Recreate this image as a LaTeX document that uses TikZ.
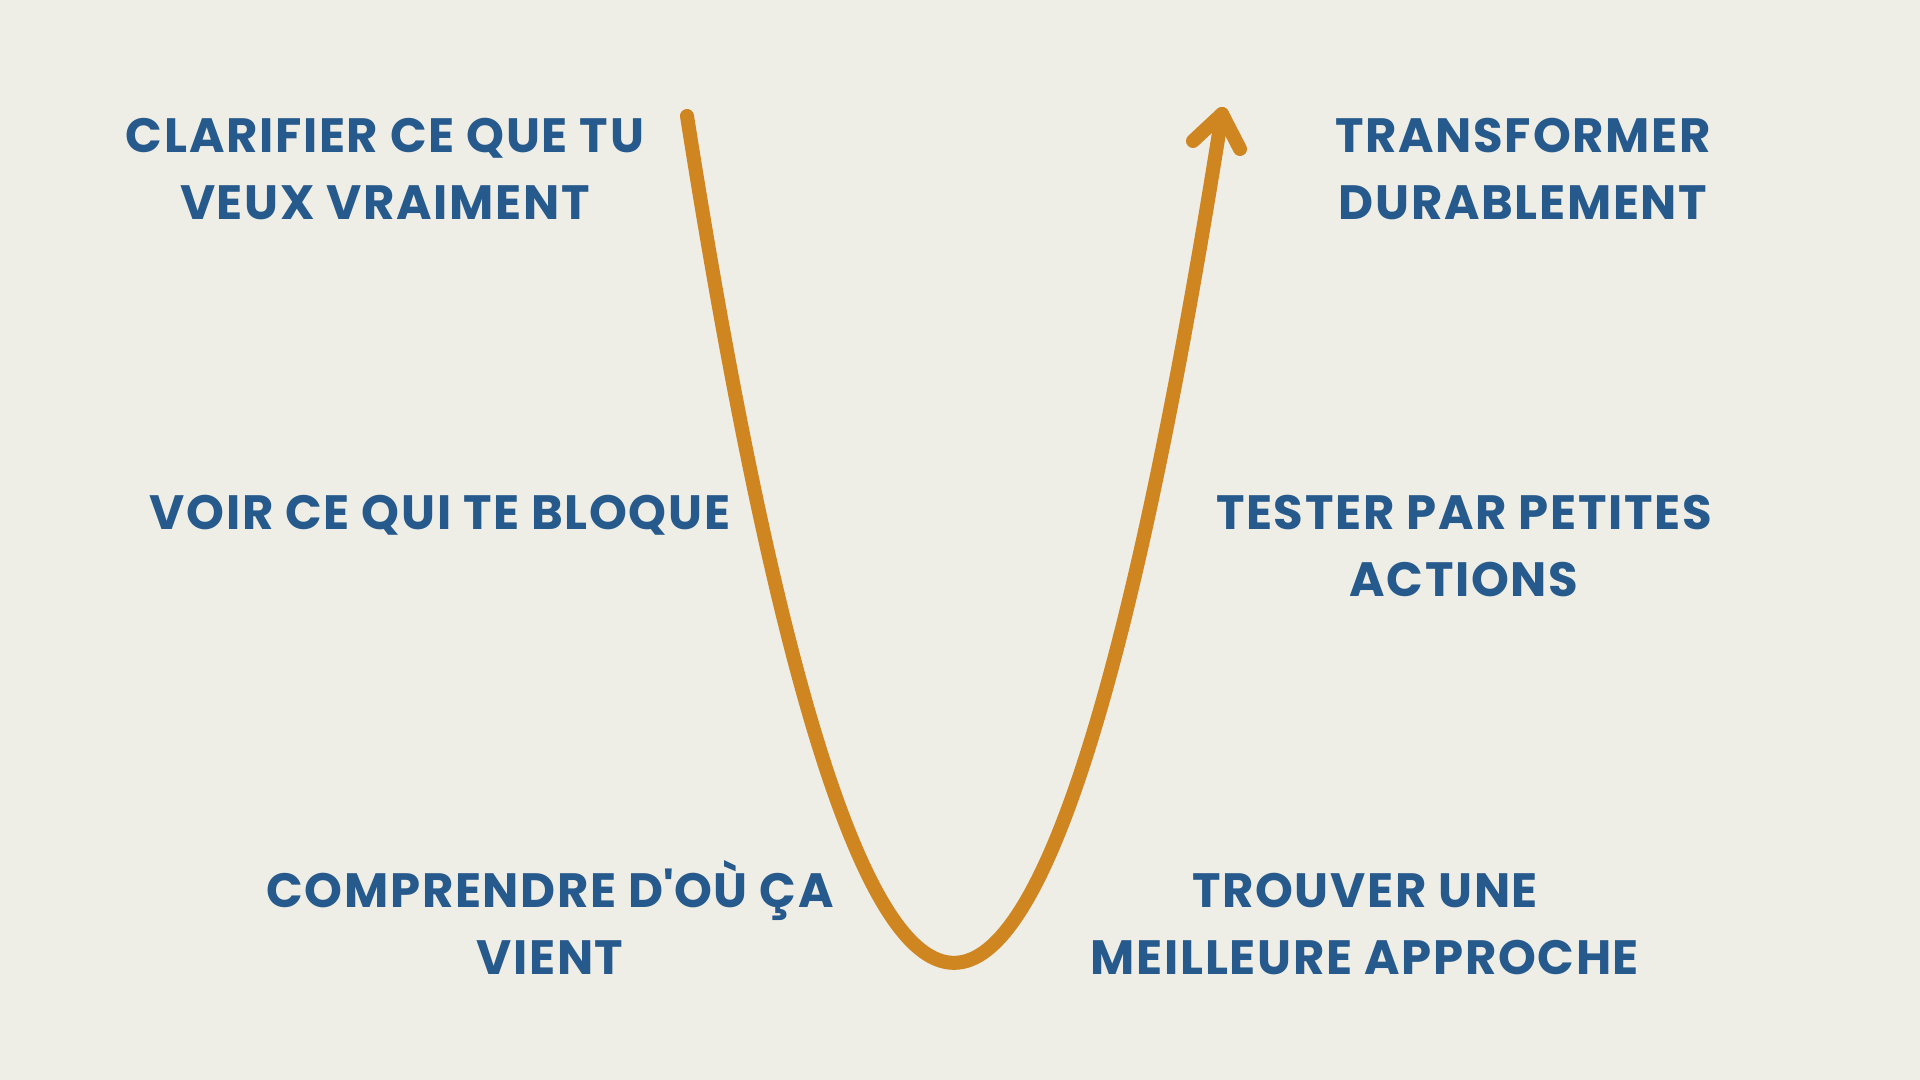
\documentclass[tikz,border=0pt]{standalone}
\usepackage{fontspec}
\setmainfont{Poppins}[LetterSpace=3.5]
\definecolor{bgc}{HTML}{EEEDE6}
\definecolor{curvec}{HTML}{CF8520}
\definecolor{textc}{HTML}{265A8C}
\begin{document}
\begin{tikzpicture}[x=0.01cm,y=-0.01cm,
  lbl/.style={anchor=base,inner sep=0pt,text=textc,font=\fontsize{13.7}{19}\selectfont\bfseries},
  curveline/.style={draw=curvec,line width=0.14cm,line cap=round,line join=round}]
\fill[bgc] (0,0) rectangle (1920,1080);
\useasboundingbox (0,0) rectangle (1920,1080);
% left labels
\node[lbl] (l1a) at (385,153) {CLARIFIER CE QUE TU};
\node[lbl] (l1b) at (385,220) {VEUX VRAIMENT};
\node[lbl] (l2a) at (440,530) {VOIR CE QUI TE BLOQUE};
\node[lbl] (l3a) at (550,908) {COMPRENDRE D\textquotesingle OÙ ÇA};
\node[lbl] (l3b) at (550,975) {VIENT};
% right labels
\node[lbl] (r1a) at (1523,153) {TRANSFORMER};
\node[lbl] (r1b) at (1523,220) {DURABLEMENT};
\node[lbl] (r2a) at (1464,530) {TESTER PAR PETITES};
\node[lbl] (r2b) at (1464,597) {ACTIONS};
\node[lbl] (r3a) at (1365,908) {TROUVER UNE};
\node[lbl] (r3b) at (1365,975) {MEILLEURE APPROCHE};
% curve
\coordinate (start) at (687,116);
\coordinate (c1) at (865,1246);
\coordinate (c2) at (1043,1245);
\coordinate (tip) at (1222,114);
\coordinate (wl) at (1193,141);
\coordinate (wr) at (1240,149);
\draw[curveline] (start) .. controls (c1) and (c2) .. (tip);
\draw[curveline] (wl) -- (tip) -- (wr);
\end{tikzpicture}
\end{document}
